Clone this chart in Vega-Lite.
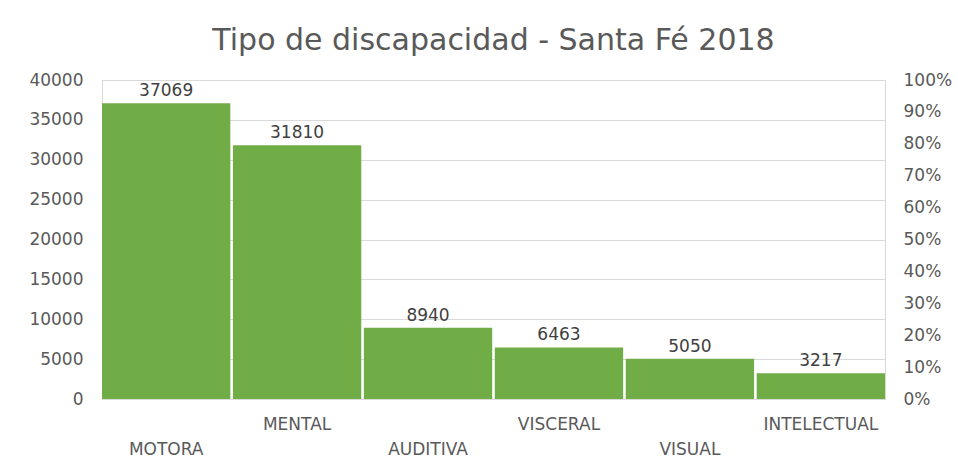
{
  "$schema": "https://vega.github.io/schema/vega-lite/v6.json",
  "autosize": "none",
  "width": 783,
  "height": 319,
  "padding": {"left": 102, "top": 80, "right": 73, "bottom": 66},
  "background": "white",
  "title": {
    "text": "Tipo de discapacidad - Santa Fé 2018",
    "font": "DejaVu Sans",
    "fontSize": 30,
    "fontWeight": "normal",
    "color": "#595959",
    "anchor": "middle",
    "offset": 15
  },
  "config": {
    "view": {"stroke": "#d9d9d9", "strokeWidth": 1},
    "axis": {
      "labelFont": "DejaVu Sans",
      "labelFontSize": 17,
      "labelColor": "#595959",
      "labelOverlap": false,
      "domain": false,
      "ticks": false,
      "title": null
    }
  },
  "data": {
    "values": [
      {"tipo": "MOTORA", "cantidad": 37069},
      {"tipo": "MENTAL", "cantidad": 31810},
      {"tipo": "AUDITIVA", "cantidad": 8940},
      {"tipo": "VISCERAL", "cantidad": 6463},
      {"tipo": "VISUAL", "cantidad": 5050},
      {"tipo": "INTELECTUAL", "cantidad": 3217}
    ]
  },
  "encoding": {
    "x": {
      "field": "tipo",
      "type": "nominal",
      "sort": null,
      "scale": {"paddingInner": 0.02, "paddingOuter": 0},
      "axis": {
        "labelAngle": 0,
        "labelPadding": 17,
        "labelLineHeight": 25,
        "labelBaseline": "top",
        "grid": false,
        "labelExpr": "indexof(['MOTORA','AUDITIVA','VISUAL'], datum.value) >= 0 ? ['', datum.value] : datum.value"
      }
    }
  },
  "layer": [
    {
      "mark": {"type": "bar", "color": "#70AD47"},
      "encoding": {
        "y": {
          "field": "cantidad",
          "type": "quantitative",
          "scale": {"domain": [0, 40000], "nice": false},
          "axis": {
            "values": [0, 5000, 10000, 15000, 20000, 25000, 30000, 35000, 40000],
            "format": "d",
            "labelPadding": 19,
            "grid": true,
            "gridColor": "#d9d9d9",
            "gridWidth": 1
          }
        }
      }
    },
    {
      "mark": {"type": "text", "dy": -12, "font": "DejaVu Sans", "fontSize": 17, "color": "#404040"},
      "encoding": {
        "y": {
          "field": "cantidad",
          "type": "quantitative",
          "scale": {"domain": [0, 40000], "nice": false},
          "axis": null
        },
        "text": {"field": "cantidad", "type": "quantitative", "format": "d"}
      }
    },
    {
      "mark": {"type": "rule", "opacity": 0},
      "encoding": {
        "y": {
          "datum": 0,
          "type": "quantitative",
          "scale": {"domain": [0, 1], "nice": false},
          "axis": {
            "orient": "right",
            "values": [0, 0.1, 0.2, 0.3, 0.4, 0.5, 0.6, 0.7, 0.8, 0.9, 1],
            "format": ".0%",
            "labelPadding": 18,
            "grid": false
          }
        }
      }
    }
  ],
  "resolve": {"scale": {"y": "independent"}}
}
